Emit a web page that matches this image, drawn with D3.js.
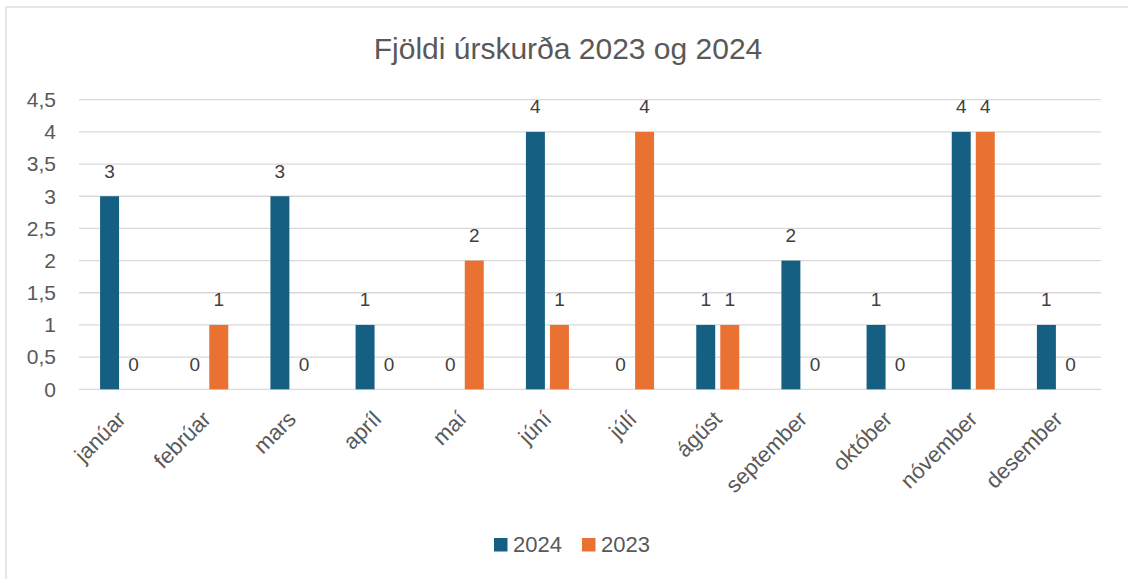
<!DOCTYPE html>
<html>
<head>
<meta charset="utf-8">
<script src="https://cdn.jsdelivr.net/npm/d3@7"></script>
<style>
  body { margin: 0; background: #fff; }
  svg text { font-family: "Liberation Sans", Arial, sans-serif; }
</style>
</head>
<body>
<div id="d3-container"></div>
<script>
// chart values
const months = ["janúar", "febrúar", "mars", "apríl", "maí", "júní", "júlí", "ágúst", "september", "október", "nóvember", "desember"];
const seriesNames = ["2024", "2023"];
const values2024 = [3, 0, 3, 1, 0, 4, 0, 1, 2, 1, 4, 1];
const values2023 = [0, 1, 0, 0, 2, 1, 4, 1, 0, 0, 4, 0];
const yTicks = [0, 0.5, 1, 1.5, 2, 2.5, 3, 3.5, 4, 4.5];
const titleText = "Fjöldi úrskurða 2023 og 2024";

const width = 1128, height = 579;
const colors = { "2024": "#156082", "2023": "#E97132" };
const plot = { left: 79, right: 1101, top: 99.7, bottom: 389.3 };

const svg = d3.select("#d3-container")
  .append("svg")
  .attr("width", width)
  .attr("height", height);

// chart border
svg.append("rect")
  .attr("x", 6).attr("y", 7)
  .attr("width", width + 10).attr("height", height + 10)
  .attr("fill", "#fff")
  .attr("stroke", "#d9d9d9")
  .attr("stroke-width", 1.3);

// title
svg.append("text")
  .attr("x", 568).attr("y", 59)
  .attr("text-anchor", "middle")
  .attr("font-size", 30)
  .attr("fill", "#595959")
  .text(titleText);

const y = d3.scaleLinear().domain([0, 4.5]).range([plot.bottom, plot.top]);
const x = d3.scaleBand().domain(months).range([plot.left, plot.right]);
const xs = d3.scaleBand().domain(seriesNames).range([-21.5, 21.5]).paddingInner(0.21);

// gridlines
svg.append("g")
  .selectAll("line")
  .data(yTicks)
  .join("line")
  .attr("x1", plot.left).attr("x2", plot.right)
  .attr("y1", d => y(d)).attr("y2", d => y(d))
  .attr("stroke", "#d9d9d9")
  .attr("stroke-width", 1.3);

// y axis labels
const fmt = d => String(d).replace(".", ",");
svg.append("g")
  .selectAll("text")
  .data(yTicks)
  .join("text")
  .attr("x", 56)
  .attr("y", d => y(d))
  .attr("dy", "0.35em")
  .attr("text-anchor", "end")
  .attr("font-size", 21)
  .attr("fill", "#595959")
  .text(fmt);

// bars
const rows = months.map((m, i) => ({ month: m, "2024": values2024[i], "2023": values2023[i] }));
const groups = svg.append("g")
  .selectAll("g")
  .data(rows)
  .join("g")
  .attr("transform", d => `translate(${x(d.month) + x.bandwidth() / 2},0)`);

const cells = groups.selectAll("g")
  .data(d => seriesNames.map(s => ({ key: s, value: d[s] })))
  .join("g");

cells.append("rect")
  .attr("x", d => xs(d.key))
  .attr("width", xs.bandwidth())
  .attr("y", d => y(d.value))
  .attr("height", d => y(0) - y(d.value))
  .attr("fill", d => colors[d.key]);

cells.append("text")
  .attr("x", d => xs(d.key) + xs.bandwidth() / 2)
  .attr("y", d => y(d.value) - 18.5)
  .attr("text-anchor", "middle")
  .attr("font-size", 19)
  .attr("fill", "#404040")
  .text(d => d.value);

// x axis labels
svg.append("g")
  .selectAll("text")
  .data(months)
  .join("text")
  .attr("transform", d => `translate(${x(d) + x.bandwidth() / 2},${415}) rotate(-45)`)
  .attr("text-anchor", "end")
  .attr("dy", "0.35em")
  .attr("font-size", 22)
  .attr("fill", "#595959")
  .text(d => d);

// legend
const legend = svg.append("g")
  .selectAll("g")
  .data(seriesNames)
  .join("g")
  .attr("transform", (d, i) => `translate(${494 + i * 88},538)`);

legend.append("rect")
  .attr("width", 13.5).attr("height", 13.5)
  .attr("fill", d => colors[d]);

legend.append("text")
  .attr("x", 19).attr("y", 14)
  .attr("font-size", 22)
  .attr("fill", "#595959")
  .text(d => d);
</script>
</body>
</html>
